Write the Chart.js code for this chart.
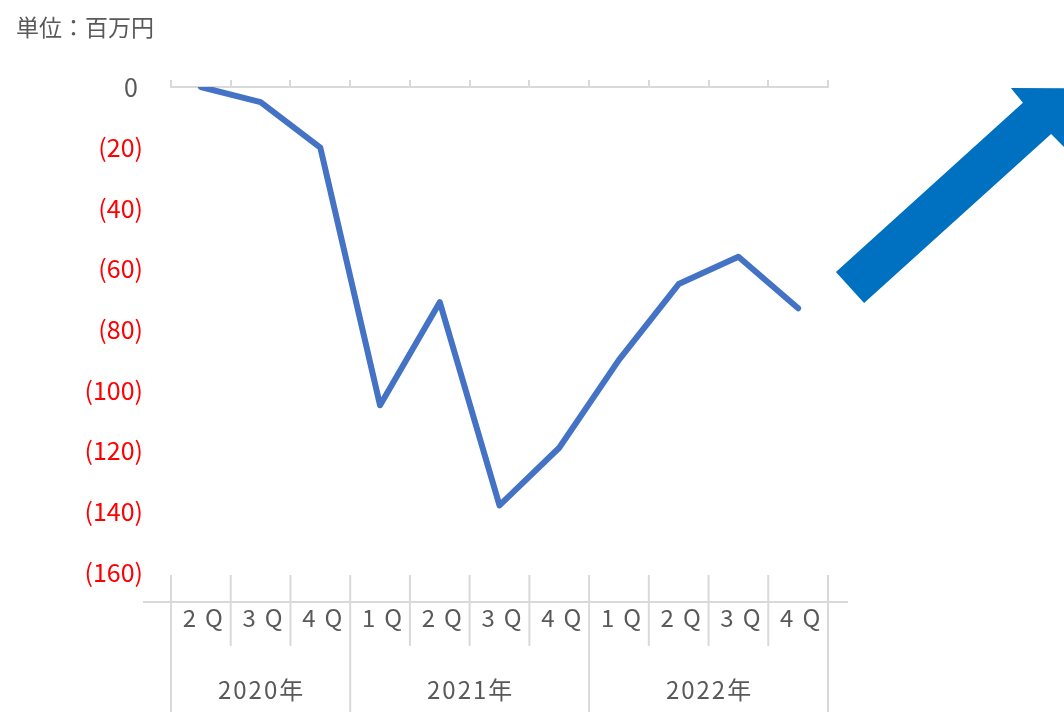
<!DOCTYPE html>
<html>
<head>
<meta charset="utf-8">
<script src="https://cdn.jsdelivr.net/npm/chart.js@4.4.1/dist/chart.umd.min.js"></script>
<style>
  html, body { margin: 0; padding: 0; background: #ffffff; }
  #wrap { width: 1064px; height: 712px; position: relative; }
</style>
</head>
<body>
<div id="wrap"><canvas id="c" width="1064" height="712"></canvas></div>
<script>
// ---- data ----
const quarters = ['2Q', '3Q', '4Q', '1Q', '2Q', '3Q', '4Q', '1Q', '2Q', '3Q', '4Q'];
const years = ['2020年', '2021年', '2022年'];
const yearCounts = [3, 4, 4];
const values = [0, -5, -20, -105, -71, -138, -119, -90, -65, -56, -73];
const unitLabel = '単位：百万円';
const yMin = -160, yMax = 0, yStep = 20;

const GRAY = '#595959';
const GRID = '#d9d9d9';
const FONT = '"Noto Sans CJK JP", "Noto Sans", sans-serif';

const decorPlugin = {
  id: 'decor',
  afterDraw(chart) {
    const ctx = chart.ctx;
    const xs = chart.scales.x;
    const area = chart.chartArea;
    const half = (xs.getPixelForValue(1) - xs.getPixelForValue(0)) / 2;
    ctx.save();
    // unit label
    ctx.fillStyle = GRAY;
    ctx.font = '23px ' + FONT;
    ctx.textAlign = 'left';
    ctx.textBaseline = 'middle';
    ctx.fillText(unitLabel, 16, 27);

    // bottom category table
    const yTop = area.bottom + 3;
    const yLine = area.bottom + 30;
    const yQEnd = area.bottom + 74;
    const yEnd = chart.height;
    ctx.strokeStyle = GRID;
    ctx.lineWidth = 2;
    ctx.beginPath();
    ctx.moveTo(area.left - 28, yLine);
    ctx.lineTo(area.right + 20, yLine);
    ctx.stroke();

    const yearBounds = [0];
    yearCounts.forEach((c, i) => yearBounds.push(yearBounds[i] + c));
    for (let i = 0; i <= quarters.length; i++) {
      const x = xs.getPixelForValue(i) - half;
      const isYear = yearBounds.includes(i);
      ctx.beginPath();
      ctx.moveTo(x, yTop);
      ctx.lineTo(x, isYear ? yEnd : yQEnd);
      ctx.stroke();
    }

    // quarter labels
    ctx.fillStyle = GRAY;
    ctx.font = '24px ' + FONT;
    ctx.textAlign = 'center';
    ctx.textBaseline = 'middle';
    const qs = 9;
    ctx.letterSpacing = qs + 'px';
    quarters.forEach((q, i) => {
      ctx.fillText(q, xs.getPixelForValue(i) + qs / 2 + 2, area.bottom + 46);
    });
    // year labels
    const ys = 2;
    ctx.letterSpacing = ys + 'px';
    years.forEach((y, i) => {
      const a = xs.getPixelForValue(yearBounds[i]) - half;
      const b = xs.getPixelForValue(yearBounds[i + 1]) - half;
      ctx.fillText(y, (a + b) / 2 + ys / 2, area.bottom + 118);
    });
    ctx.letterSpacing = '0px';

    // decorative arrow
    ctx.fillStyle = '#0070C0';
    ctx.beginPath();
    const pts = [[835.9, 271.9], [1022.9, 102.8], [1010.9, 88], [1070.4, 88.2], [1064.5, 147.4], [1051.1, 134], [864.1, 303.1]];
    ctx.moveTo(pts[0][0], pts[0][1]);
    for (let i = 1; i < pts.length; i++) ctx.lineTo(pts[i][0], pts[i][1]);
    ctx.closePath();
    ctx.fill();
    ctx.restore();
  }
};

new Chart(document.getElementById('c'), {
  type: 'line',
  data: {
    labels: quarters,
    datasets: [{
      data: values,
      borderColor: '#4472C4',
      borderWidth: 6,
      pointRadius: 0,
      tension: 0,
      borderCapStyle: 'round',
      borderJoinStyle: 'round',
      fill: false
    }]
  },
  options: {
    responsive: false,
    animation: false,
    devicePixelRatio: 1,
    layout: { padding: { left: 0, right: 236, top: 0, bottom: 140 } },
    plugins: { legend: { display: false }, tooltip: { enabled: false } },
    scales: {
      x: {
        type: 'category',
        position: 'top',
        offset: true,
        grid: { display: true, offset: true, drawOnChartArea: false, tickLength: 7, color: GRID, lineWidth: 2 },
        border: { display: true, color: GRID, width: 2 },
        ticks: { display: false },
        afterFit(s) { s.height = 87; }
      },
      y: {
        min: yMin,
        max: yMax,
        grid: { display: false, drawTicks: false },
        border: { display: false },
        ticks: {
          stepSize: yStep,
          padding: 28,
          font: { family: FONT, size: 25, lineHeight: 1.1 },
          color: (ctx) => (ctx.tick && ctx.tick.value < 0 ? '#FF0000' : GRAY),
          callback: (v) => (v === 0 ? '0\u2009' : '(' + Math.abs(v) + ')')
        },
        afterFit(s) { s.width = 171; }
      }
    }
  },
  plugins: [decorPlugin]
});
</script>
</body>
</html>
